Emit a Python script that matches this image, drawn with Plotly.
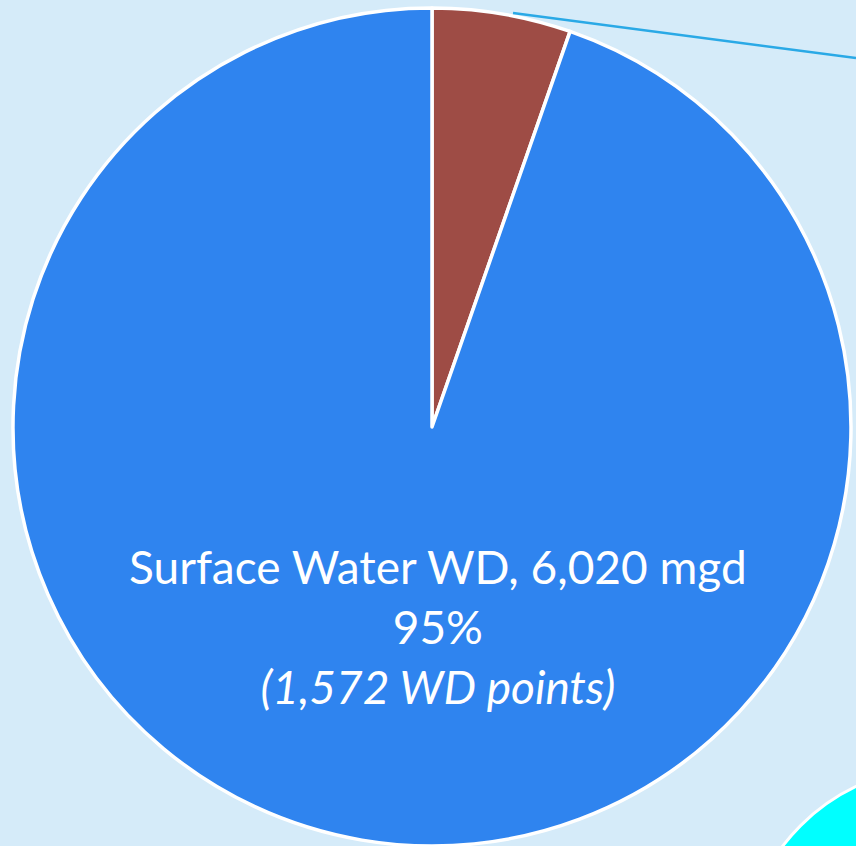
import plotly.graph_objects as go

# Withdrawal split by source
sources = ["Groundwater WD", "Surface Water WD"]
withdrawals_mgd = [340, 6020]
wd_points = [None, 1572]
slice_colors = ["#9e4c45", "#2f84ef"]

W, H = 856, 846
cx, cy, r = 432, 428, 420  # pie centre / radius in pixels

fig = go.Figure()
fig.add_trace(go.Pie(
    labels=sources,
    values=withdrawals_mgd,
    sort=False,
    direction="clockwise",
    rotation=0,
    marker=dict(colors=slice_colors, line=dict(color="white", width=3.5)),
    textinfo="none",
    hoverinfo="label+value+percent",
    showlegend=False,
    domain=dict(x=[(cx - r) / W, (cx + r) / W],
                y=[max(0, 1 - (cy + r) / H), 1 - (cy - r) / H]),
))

total = sum(withdrawals_mgd)
sw = withdrawals_mgd[1]
pct = round(100 * sw / total)
label = (f"{sources[1]}, {sw:,} mgd<br>{pct}%<br>"
         f"<i>({wd_points[1]:,} WD points)</i>")

fig.add_annotation(
    x=438 / W, y=1 - 626 / H, xref="paper", yref="paper",
    xanchor="center", yanchor="middle",
    text=label, showarrow=False, align="center",
    font=dict(family="Lato", size=46, color="white"),
)

# leader line running off to the right
fig.add_shape(type="line", xref="paper", yref="paper",
              x0=513 / W, y0=1 - 13 / H, x1=1.0, y1=1 - 58 / H,
              line=dict(color="#2aa9e6", width=2.5))

# neighbouring cyan disc in the lower-right corner
ccx, ccy, cr = 942, 967, 200
fig.add_shape(type="circle", xref="paper", yref="paper",
              x0=(ccx - cr) / W, x1=(ccx + cr) / W,
              y0=1 - (ccy + cr) / H, y1=1 - (ccy - cr) / H,
              fillcolor="#00ffff", line=dict(color="white", width=3),
              layer="above")

fig.update_layout(
    width=W, height=H,
    margin=dict(l=0, r=0, t=0, b=0),
    paper_bgcolor="#d5ebf9",
    plot_bgcolor="#d5ebf9",
)

fig.write_html("out.html")
